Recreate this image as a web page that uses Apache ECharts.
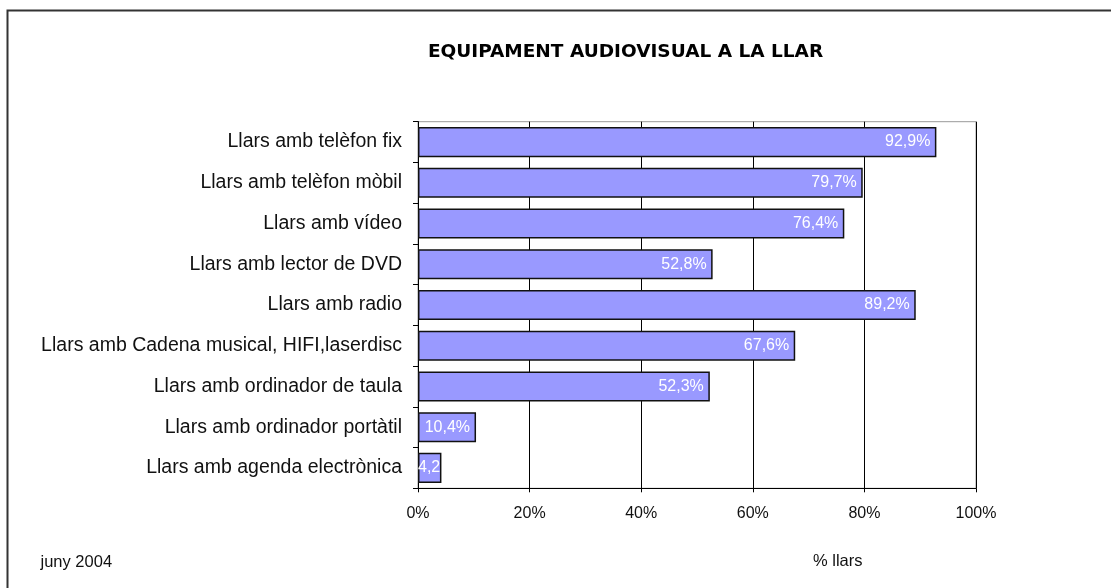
<!DOCTYPE html>
<html><head><meta charset="utf-8">
<script src="https://cdn.jsdelivr.net/npm/echarts@6/dist/echarts.min.js"></script>
<style>html,body{margin:0;padding:0;background:#fff}#c{width:1111px;height:588px}</style>
</head><body><div id="c"></div>
<script>
const categories = ["Llars amb telèfon fix","Llars amb telèfon mòbil","Llars amb vídeo","Llars amb lector de DVD","Llars amb radio","Llars amb Cadena musical, HIFI,laserdisc","Llars amb ordinador de taula","Llars amb ordinador portàtil","Llars amb agenda electrònica"];
const values = [92.9,79.7,76.4,52.8,89.2,67.6,52.3,10.4,4.2];
const xTicks = [0,20,40,60,80,100];
const FONT = '"Liberation Sans", Arial, sans-serif';
const chart = echarts.init(document.getElementById('c'));
const fmt = v => String(v.toFixed(1)).replace('.', ',') + '%';
chart.setOption({
  animation:false,
  backgroundColor:'#fff',
  textStyle:{fontFamily:FONT},
  title:{text:'EQUIPAMENT AUDIOVISUAL A LA LLAR',left:620.5,top:38,textAlign:'center',
    textStyle:{fontFamily:'"DejaVu Sans", sans-serif',fontSize:18.5,fontWeight:'bold',color:'#000'}},
  graphic:[
    {type:'rect',shape:{x:7.5,y:10.5,width:1120,height:600},style:{fill:null,stroke:'#333',lineWidth:2},silent:true},
    {type:'text',left:40.5,top:554,style:{text:'juny 2004',font:'16.5px '+FONT,fill:'#111'}},
    {type:'text',left:813,top:553,style:{text:'% llars',font:'16.5px '+FONT,fill:'#111'}}
  ],
  grid:{left:418,right:135,top:121.7,bottom:99.7,show:true,borderColor:'#999',borderWidth:1,containLabel:false},
  xAxis:{type:'value',min:xTicks[0],max:xTicks[xTicks.length-1],interval:20,
    axisLine:{show:true,lineStyle:{color:'#000',width:1}},
    axisTick:{show:true,length:4,lineStyle:{color:'#000'}},
    splitLine:{show:true,lineStyle:{color:'#000',width:1}},
    axisLabel:{formatter:'{value}%',fontFamily:FONT,fontSize:16,color:'#111',margin:17}},
  yAxis:{type:'category',data:categories,inverse:true,
    axisLine:{show:true,lineStyle:{color:'#000',width:1}},
    axisTick:{show:true,length:5,lineStyle:{color:'#000'}},
    axisLabel:{fontFamily:FONT,fontSize:19.5,color:'#111',margin:16}},
  series:[{type:'bar',data:values.map((v,i)=>{
      const d={value:v};
      if(i===values.length-1){
        d.label={position:'insideLeft',distance:0,width:30,overflow:'truncate',ellipsis:''};
      }
      return d;
    }),
    barCategoryGap:'26%',
    itemStyle:{color:'#9999FF',borderColor:'#111',borderWidth:1.5},
    label:{show:true,position:'insideRight',distance:6,color:'#fff',fontFamily:FONT,fontSize:16,
      formatter:p=>fmt(p.value)}
  }]
});
</script></body></html>
